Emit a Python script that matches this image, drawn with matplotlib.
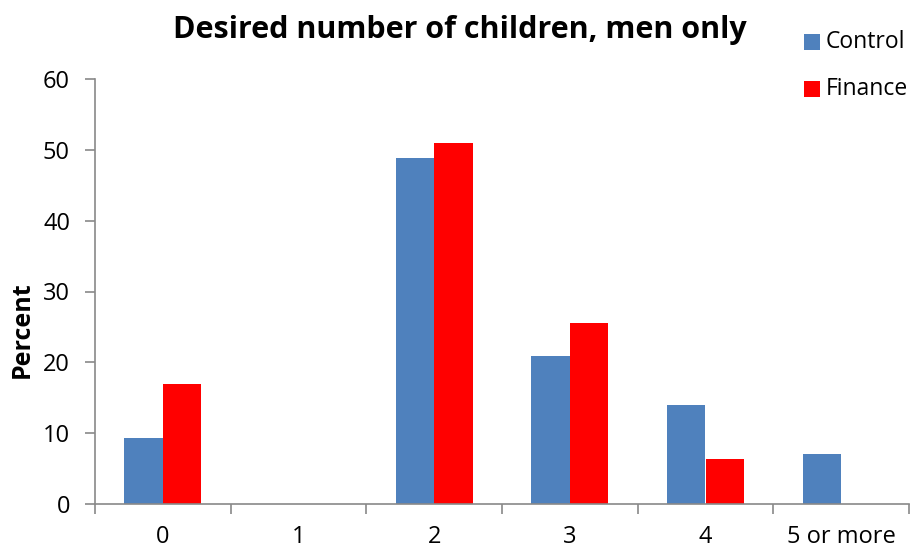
import matplotlib
matplotlib.use("Agg")
import matplotlib.pyplot as plt
import numpy as np
from matplotlib.patches import Rectangle

categories = ["0", "1", "2", "3", "4", "5 or more"]
control = [9.3, 0, 48.8, 20.9, 14.0, 7.0]
finance = [17.0, 0, 51.0, 25.5, 6.4, 0]
yticks = [0, 10, 20, 30, 40, 50, 60]

plt.rcParams['font.family'] = ['Open Sans', 'DejaVu Sans']

W, H = 911, 550
fig = plt.figure(figsize=(W/100, H/100), dpi=100)
ax = fig.add_axes([95/W, 1-504/H, (909-95)/W, (504-79)/H])

x = np.arange(len(categories))
w = 0.285
blue = "#4F81BD"
red = "#FF0000"
ax.bar(x - w/2, control, width=w, color=blue, edgecolor="none")
ax.bar(x + w/2, finance, width=w, color=red, edgecolor="none")

ax.set_xlim(-0.5, len(categories) - 0.5)
ax.set_ylim(0, 60)
ax.set_yticks(yticks)
ax.set_yticklabels([str(t) for t in yticks], fontsize=17)

# category labels centred, ticks at category boundaries
ax.set_xticks(x)
ax.set_xticklabels(categories, fontsize=17)
ax.tick_params(axis='x', length=0, pad=15)
ax.set_xticks(np.arange(-0.5, len(categories)), minor=True)
ax.tick_params(axis='x', which='minor', length=7, width=1.2, color="#898989", direction='out')
ax.tick_params(axis='y', length=7, width=1.2, color="#898989", direction='out', pad=11)

for side in ("top", "right"):
    ax.spines[side].set_visible(False)
for side in ("left", "bottom"):
    ax.spines[side].set_color("#898989")
    ax.spines[side].set_linewidth(1.2)

fig.text(460/W, 1-30/H, "Desired number of children, men only",
         ha="center", va="center", fontsize=22, fontweight="bold")
fig.text(22/W, 1-330/H, "Percent", rotation=90, ha="center", va="center",
         fontsize=18, fontweight="bold")

# legend: colour swatch plus label for each series
for name, color, yc in (("Control", blue, 42), ("Finance", red, 89)):
    fig.add_artist(Rectangle((804/W, 1-(yc+8)/H), 16/W, 16/H,
                             transform=fig.transFigure, facecolor=color, edgecolor="none"))
    fig.text(826/W, 1-yc/H, name, ha="left", va="center", fontsize=16.5)

fig.savefig("out.png", dpi=100)
